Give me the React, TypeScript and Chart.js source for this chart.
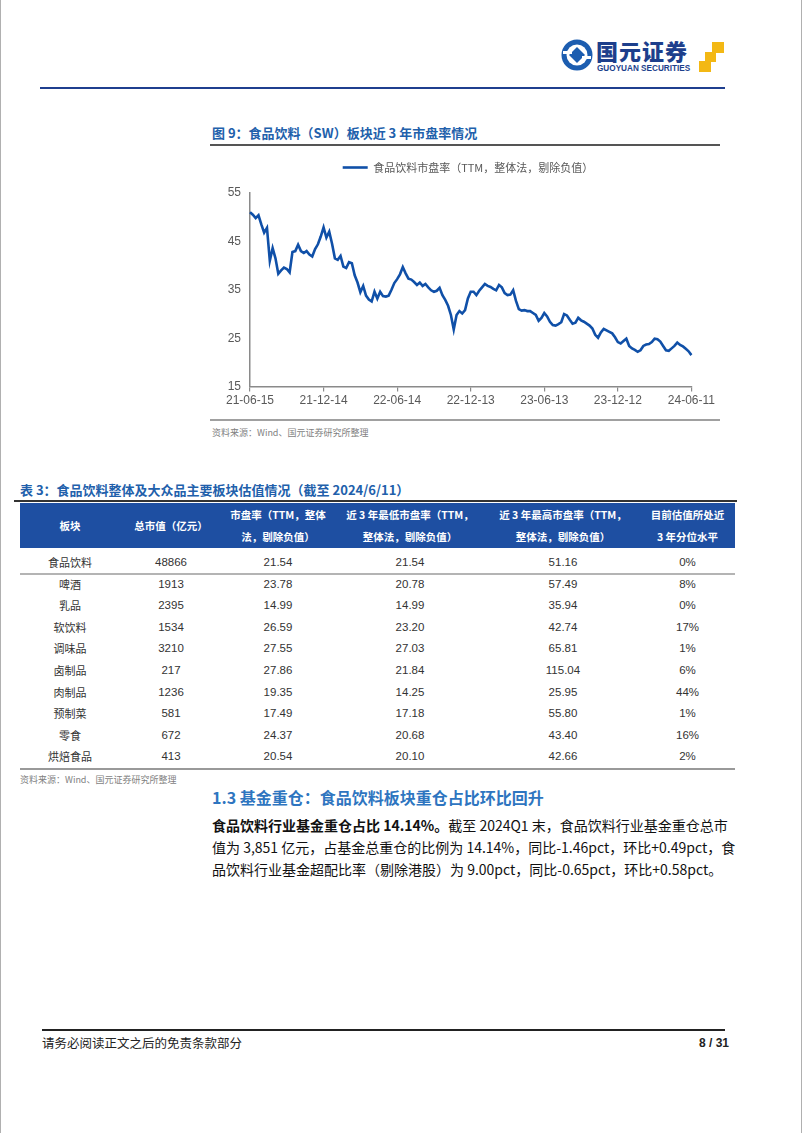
import React, { useEffect, useRef } from 'react';
import { Chart, registerables } from 'chart.js';

Chart.register(...registerables);

// ---------- chart data ----------
const seriesName = '食品饮料市盘率（TTM，整体法，剔除负值）';
const tickLabels = ['21-06-15', '21-12-14', '22-06-14', '22-12-13', '23-06-13', '23-12-12', '24-06-11'];
const weeksPerTick = 26;
const peValues = [
  51.0, 50.5, 49.8, 50.4, 48.5, 46.8, 47.8, 41.0, 43.6, 41.5,
  38.3, 39.0, 39.6, 39.3, 38.6, 42.8, 43.0, 44.3, 43.0, 42.6,
  43.0, 42.3, 41.9, 43.4, 44.4, 46.0, 47.9, 45.8, 47.0, 44.5,
  41.5, 41.2, 42.0, 39.8, 39.5, 40.7, 40.5, 38.0, 36.5, 34.5,
  35.8, 33.8, 33.0, 32.6, 34.6, 33.2, 34.6, 33.7, 33.6, 33.8,
  35.0, 36.4, 37.2, 38.2, 39.7, 38.4, 37.3, 37.1, 36.6, 36.0,
  36.5, 35.8, 36.2, 35.5, 34.9, 34.6, 34.8, 35.4, 33.9, 32.9,
  31.7, 29.8, 26.8, 29.8, 30.6, 30.1, 30.8, 33.2, 34.6, 34.6,
  33.9, 34.8, 35.5, 36.2, 35.8, 35.6, 35.2, 34.9, 36.0, 35.5,
  34.3, 33.9, 34.0, 34.9, 32.7, 31.0, 30.7, 30.8, 30.6, 30.6,
  30.2, 29.8, 28.6, 29.2, 30.2, 29.5, 28.4, 27.7, 27.6, 27.9,
  28.3, 30.0, 29.7, 28.8, 28.0, 28.2, 29.2, 28.7, 28.4, 28.0,
  27.6, 27.0, 25.7, 25.1, 26.2, 26.9, 26.6, 26.3, 26.0, 25.2,
  24.2, 23.9, 24.4, 24.9, 23.4, 22.9, 22.6, 22.2, 22.5, 23.4,
  23.7, 23.8, 24.2, 24.9, 24.8, 24.3, 23.4, 22.5, 22.4, 22.9,
  23.4, 24.1, 23.6, 23.3, 22.8, 22.3, 21.5,
];
const yMin = 15;
const yMax = 55;
const yStep = 10;

// ---------- table data ----------
const tableHeaders = [
  ['板块'],
  ['总市值（亿元）'],
  ['市盘率（TTM，整体', '法，剔除负值）'],
  ['近 3 年最低市盘率（TTM，', '整体法，剔除负值）'],
  ['近 3 年最高市盘率（TTM，', '整体法，剔除负值）'],
  ['目前估值所处近', '3 年分位水平'],
];
const sectors = ['食品饮料', '啤酒', '乳品', '软饮料', '调味品', '卤制品', '肉制品', '预制菜', '零食', '烘焙食品'];
const marketCap = ['48866', '1913', '2395', '1534', '3210', '217', '1236', '581', '672', '413'];
const peNow = ['21.54', '23.78', '14.99', '26.59', '27.55', '27.86', '19.35', '17.49', '24.37', '20.54'];
const peLow3y = ['21.54', '20.78', '14.99', '23.20', '27.03', '21.84', '14.25', '17.18', '20.68', '20.10'];
const peHigh3y = ['51.16', '57.49', '35.94', '42.74', '65.81', '115.04', '25.95', '55.80', '43.40', '42.66'];
const percentile = ['0%', '8%', '0%', '17%', '1%', '6%', '44%', '1%', '16%', '2%'];

const colWidths = [100, 102, 112, 152, 154, 95];

const CJK = '"Noto Sans CJK SC", "Liberation Sans", sans-serif';
const LAT = '"Liberation Sans", "Noto Sans CJK SC", sans-serif';

function PEChart() {
  const ref = useRef<HTMLCanvasElement | null>(null);
  useEffect(() => {
    if (!ref.current) return;
    const labels = peValues.map((_, i) => (i % weeksPerTick === 0 ? tickLabels[i / weeksPerTick] : ''));
    const chart = new Chart(ref.current, {
      type: 'line',
      data: {
        labels,
        datasets: [
          {
            label: seriesName,
            data: peValues,
            borderColor: '#1050A8',
            backgroundColor: '#1050A8',
            borderWidth: 2.6,
            pointRadius: 0,
            tension: 0,
            fill: false,
          },
        ],
      },
      options: {
        animation: false,
        responsive: false,
        maintainAspectRatio: false,
        layout: { padding: { top: 2, right: 0, bottom: 0, left: 0 } },
        plugins: {
          legend: {
            display: true,
            position: 'top',
            labels: {
              usePointStyle: true,
              pointStyle: 'line',
              pointStyleWidth: 25,
              boxHeight: 11,
              color: '#595959',
              font: { size: 11, family: CJK },
              padding: 6,
            },
          },
          tooltip: { enabled: false },
        },
        scales: {
          x: {
            type: 'category',
            offset: false,
            grid: { display: true, drawOnChartArea: false, drawTicks: true, tickLength: 5, color: '#8a8a8a', lineWidth: 1.2 },
            border: { display: true, color: '#8a8a8a', width: 1.5 },
            ticks: {
              autoSkip: false,
              maxRotation: 0,
              minRotation: 0,
              color: '#595959',
              font: { size: 12, family: LAT },
              padding: 2,
            },
            afterBuildTicks: (scale: any) => {
              scale.ticks = scale.ticks.filter((t: any) => t.value % weeksPerTick === 0);
            },
          },
          y: {
            min: yMin,
            max: yMax,
            grid: { display: true, drawOnChartArea: false, drawTicks: false, color: '#8a8a8a' },
            border: { display: true, color: '#8a8a8a', width: 1.5 },
            ticks: {
              stepSize: yStep,
              color: '#595959',
              font: { size: 12, family: LAT },
              padding: 9,
            },
            afterFit: (scale: any) => {
              scale.width = 31;
            },
          },
        },
      },
      plugins: [
        {
          id: 'legendGap',
          beforeInit(c: any) {
            const orig = c.legend.fit;
            c.legend.fit = function () {
              orig.bind(c.legend)();
              this.height += 10;
            };
          },
        },
      ],
    } as any);
    return () => chart.destroy();
  }, []);
  return <canvas ref={ref} width={498} height={256} style={{ display: 'block', width: 498, height: 256 }} />;
}

function abs(left: number, top: number, extra: React.CSSProperties = {}): React.CSSProperties {
  return { position: 'absolute', left, top, ...extra };
}

export default function App() {
  useEffect(() => {
    document.body.style.margin = '0';
  }, []);

  const tableLeft = 20;
  const tableWidth = colWidths.reduce((a, b) => a + b, 0);
  const headerTop = 503;
  const headerH = 45;
  const bodyTop = 552;
  const rowH = 21.6;

  const rows = sectors.map((s, i) => [s, marketCap[i], peNow[i], peLow3y[i], peHigh3y[i], percentile[i]]);

  return (
    <div style={{ position: 'relative', width: 802, height: 1133, background: '#fff', overflow: 'hidden', fontFamily: CJK }}>
      {/* page borders */}
      <div style={abs(0, 0, { width: 1, height: 1133, background: '#b0b0b0' })} />
      <div style={abs(801, 0, { width: 1, height: 1133, background: '#b0b0b0' })} />

      {/* logo */}
      <svg style={abs(560, 38)} width={34} height={34} viewBox="0 0 34 34">
        <circle cx={17} cy={17} r={15.5} fill="#1C5DB0" />
        <circle cx={17} cy={17} r={10.5} fill="#fff" />
        <path d="M17 9 L25 17 L17 25 L9 17 Z" fill="#1C5DB0" />
        <path d="M3 13 L12 13 L12 16 L3 16 Z" fill="#fff" />
        <path d="M22 18 L31 18 L31 21 L22 21 Z" fill="#fff" />
      </svg>
      <div style={abs(596, 38, { fontSize: 22, fontWeight: 900, color: '#1D3F8C', letterSpacing: 1, lineHeight: '24px', height: 24, whiteSpace: 'nowrap' })}>国元证券</div>
      <div style={abs(597, 64, { fontSize: 8.2, fontWeight: 700, color: '#1D3F8C', fontFamily: LAT, lineHeight: '9px', whiteSpace: 'nowrap' })}>GUOYUAN SECURITIES</div>
      <div style={abs(712, 42, { width: 12, height: 11, background: '#F3B814' })} />
      <div style={abs(705, 52, { width: 11, height: 10, background: '#F3B814' })} />
      <div style={abs(699, 61, { width: 12, height: 11, background: '#F3B814' })} />

      {/* header line */}
      <div style={abs(40, 87, { width: 685, height: 2, background: '#1F3F8F' })} />

      {/* chart title */}
      <div style={abs(212, 124, { fontSize: 13, fontWeight: 700, color: '#2160AB', lineHeight: '18px', whiteSpace: 'nowrap' })}>
        图 9：食品饮料（SW）板块近 3 年市盘率情况
      </div>
      <div style={abs(210, 144, { width: 510, height: 2, background: '#555' })} />

      {/* chart */}
      <div style={abs(219, 154, { width: 498, height: 256 })}>
        <PEChart />
      </div>

      <div style={abs(210, 419, { width: 510, height: 2, background: '#a0a0a0' })} />
      <div style={abs(212, 426, { fontSize: 9, color: '#7f7f7f', lineHeight: '14px', whiteSpace: 'nowrap' })}>资料来源：Wind、国元证券研究所整理</div>

      {/* table title */}
      <div style={abs(20, 481, { fontSize: 13, fontWeight: 700, color: '#2160AB', lineHeight: '18px', whiteSpace: 'nowrap' })}>
        表 3：食品饮料整体及大众品主要板块估值情况（截至 2024/6/11）
      </div>
      <div style={abs(14, 500, { width: 723, height: 2, background: '#333' })} />

      {/* table header */}
      <div style={abs(tableLeft, headerTop, { width: tableWidth, height: headerH, background: '#1E4FA2', display: 'flex' })}>
        {tableHeaders.map((h, ci) => (
          <div
            key={ci}
            style={{
              width: colWidths[ci],
              height: headerH,
              display: 'flex',
              flexDirection: 'column',
              alignItems: 'center',
              justifyContent: 'center',
              color: '#fff',
              fontWeight: 700,
              fontSize: 10.5,
              lineHeight: '22px',
              whiteSpace: 'nowrap',
            }}
          >
            {h.map((line, li) => (
              <div key={li}>{line}</div>
            ))}
          </div>
        ))}
      </div>

      {/* table body */}
      {rows.map((r, ri) => (
        <div key={ri} style={abs(tableLeft, bodyTop + ri * rowH, { width: tableWidth, height: rowH, display: 'flex' })}>
          {r.map((cell, ci) => (
            <div
              key={ci}
              style={{
                width: colWidths[ci],
                height: rowH,
                lineHeight: `${rowH}px`,
                textAlign: 'center',
                fontSize: ci === 0 ? 11 : 11.5,
                fontFamily: ci === 0 ? CJK : LAT,
                color: '#333',
                whiteSpace: 'nowrap',
              }}
            >
              {cell}
            </div>
          ))}
        </div>
      ))}
      <div style={abs(tableLeft, bodyTop + rowH - 0.5, { width: tableWidth, height: 2, background: '#b4b4b4' })} />
      <div style={abs(tableLeft, bodyTop + rowH * 10 - 0.5, { width: tableWidth, height: 2, background: '#999' })} />
      <div style={abs(20, 773, { fontSize: 9, color: '#7f7f7f', lineHeight: '14px', whiteSpace: 'nowrap' })}>资料来源：Wind、国元证券研究所整理</div>

      {/* section heading */}
      <div style={abs(212, 786, { fontSize: 16, fontWeight: 700, color: '#2E75C0', lineHeight: '22px', whiteSpace: 'nowrap' })}>
        1.3 基金重仓：食品饮料板块重仓占比环比回升
      </div>

      {/* paragraph */}
      <div style={abs(212, 814, { width: 501, fontSize: 14, lineHeight: '22px', color: '#111', textAlign: 'justify', textAlignLast: 'justify', whiteSpace: 'nowrap' })}>
        <b>食品饮料行业基金重仓占比 14.14%。</b>截至 2024Q1 末，食品饮料行业基金重仓总市
      </div>
      <div style={abs(212, 836, { width: 501, fontSize: 14, lineHeight: '22px', color: '#111', textAlign: 'justify', textAlignLast: 'justify', whiteSpace: 'nowrap' })}>
        值为 3,851 亿元，占基金总重仓的比例为 14.14%，同比-1.46pct，环比+0.49pct，食
      </div>
      <div style={abs(212, 858, { fontSize: 14, lineHeight: '22px', color: '#111', whiteSpace: 'nowrap' })}>
        品饮料行业基金超配比率（剔除港股）为 9.00pct，同比-0.65pct，环比+0.58pct。
      </div>

      {/* footer */}
      <div style={abs(42, 1029, { width: 683, height: 2, background: '#222' })} />
      <div style={abs(42, 1034, { fontSize: 12.5, color: '#222', lineHeight: '18px', whiteSpace: 'nowrap' })}>请务必阅读正文之后的免责条款部分</div>
      <div style={abs(699, 1034, { fontSize: 12, fontWeight: 700, color: '#222', fontFamily: LAT, lineHeight: '18px', whiteSpace: 'nowrap' })}>8 / 31</div>
    </div>
  );
}
